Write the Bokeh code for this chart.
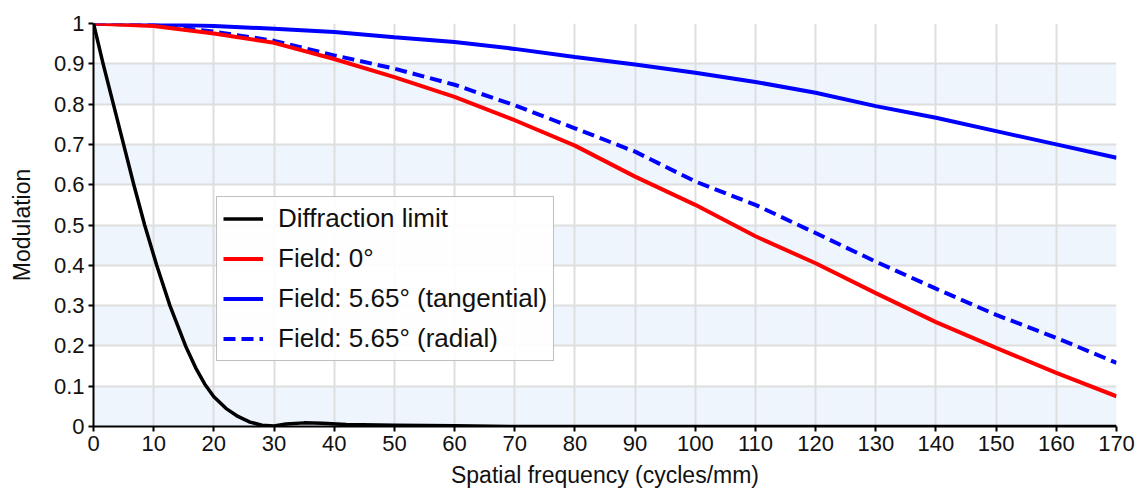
from bokeh.plotting import figure
from bokeh.models import (Legend, LegendItem, FixedTicker, CustomJSTickFormatter,
                          BoxAnnotation, Range1d)
from bokeh.embed import file_html
from bokeh.resources import INLINE

# ---------------- data ----------------
freq = [0, 10, 20, 30, 40, 50, 60, 70, 80, 90, 100, 110, 120, 130, 140, 150, 160, 170]
field0 = [1.0, 0.994, 0.975, 0.952, 0.912, 0.867, 0.818, 0.760, 0.697, 0.620,
          0.550, 0.472, 0.405, 0.331, 0.259, 0.195, 0.133, 0.075]
tangential = [1.0, 0.999, 0.994, 0.987, 0.979, 0.966, 0.954, 0.937, 0.917, 0.898,
              0.878, 0.855, 0.828, 0.795, 0.766, 0.733, 0.700, 0.667]
radial = [1.0, 0.996, 0.980, 0.957, 0.921, 0.888, 0.848, 0.797, 0.740, 0.682,
          0.608, 0.550, 0.480, 0.409, 0.342, 0.277, 0.220, 0.158]

diff_freq = [0, 1.6, 3.3, 5.0, 6.7, 8.5, 10.5, 12.7, 15.3, 17, 18.5, 20, 22, 24, 26, 28,
             30, 32, 35, 38, 42, 50, 60, 70, 170]
diff_mod = [1.0, 0.9, 0.8, 0.7, 0.6, 0.5, 0.4, 0.3, 0.2, 0.145, 0.105, 0.074, 0.045,
            0.025, 0.011, 0.003, 0.001, 0.006, 0.009, 0.008, 0.005, 0.003, 0.002, 0.0, 0.0]

x_ticks = [0, 10, 20, 30, 40, 50, 60, 70, 80, 90, 100, 110, 120, 130, 140, 150, 160, 170]
y_ticks = [0, 0.1, 0.2, 0.3, 0.4, 0.5, 0.6, 0.7, 0.8, 0.9, 1.0]
band_starts = [0.0, 0.2, 0.4, 0.6, 0.8]

labels = ["Diffraction limit", "Field: 0°", "Field: 5.65° (tangential)", "Field: 5.65° (radial)"]
x_label = "Spatial frequency (cycles/mm)"
y_label = "Modulation"

FONT = "Liberation Sans"

p = figure(width=1136, height=490, x_range=Range1d(0, 170), y_range=Range1d(0, 1),
           output_backend="svg", toolbar_location=None,
           min_border_left=93, min_border_right=20, min_border_top=23, min_border_bottom=64)
p.outline_line_color = None
p.background_fill_color = "white"
p.border_fill_color = "white"

# alternating bands
for b in band_starts:
    p.add_layout(BoxAnnotation(bottom=b, top=b + 0.1, fill_color="#EEF5FD", fill_alpha=1.0,
                               line_color=None, level="image"))

for g in (p.xgrid, p.ygrid):
    g.grid_line_color = "#DEDEDE"
    g.grid_line_width = 2
p.xgrid.ticker = FixedTicker(ticks=x_ticks)
p.ygrid.ticker = FixedTicker(ticks=y_ticks)

for ax in (p.xaxis[0], p.yaxis[0]):
    ax.axis_line_color = "black"
    ax.axis_line_width = 2
    ax.major_tick_line_color = "black"
    ax.major_tick_line_width = 2
    ax.major_tick_out = 5
    ax.major_tick_in = 0
    ax.minor_tick_line_color = None
    ax.major_label_text_font = FONT
    ax.major_label_text_font_size = "22px"
    ax.major_label_text_color = "#111111"
    ax.major_label_standoff = 4
    ax.axis_label_text_font = FONT
    ax.axis_label_text_font_size = "23px"
    ax.axis_label_text_font_style = "normal"
    ax.axis_label_text_color = "#111111"

p.xaxis.ticker = FixedTicker(ticks=x_ticks)
p.yaxis.ticker = FixedTicker(ticks=y_ticks)
p.yaxis.formatter = CustomJSTickFormatter(code="return tick.toFixed(1).replace('.0', '');")
p.xaxis.axis_label = x_label
p.yaxis.axis_label = y_label
p.xaxis.axis_label_standoff = 8
p.yaxis.axis_label_standoff = 16

r_rad = p.line(freq, radial, line_color="#0000FF", line_width=4, line_dash="12 6")
r_tan = p.line(freq, tangential, line_color="#0000FF", line_width=4)
r_f0 = p.line(freq, field0, line_color="#FF0000", line_width=4)
r_diff = p.line(diff_freq, diff_mod, line_color="black", line_width=3.5, line_join="round")

legend = Legend(items=[LegendItem(label=labels[0], renderers=[r_diff]),
                       LegendItem(label=labels[1], renderers=[r_f0]),
                       LegendItem(label=labels[2], renderers=[r_tan]),
                       LegendItem(label=labels[3], renderers=[r_rad])],
                location=(123, 65))
legend.label_text_font = FONT
legend.label_text_font_size = "26px"
legend.label_text_color = "#111111"
legend.glyph_width = 40
legend.glyph_height = 25
legend.label_height = 25
legend.label_standoff = 15
legend.spacing = 9
legend.padding = 6
legend.margin = 0
legend.border_line_color = "#808080"
legend.border_line_width = 1.5
legend.background_fill_alpha = 0.9
p.add_layout(legend)

open("out.html", "w").write(file_html(p, INLINE))
